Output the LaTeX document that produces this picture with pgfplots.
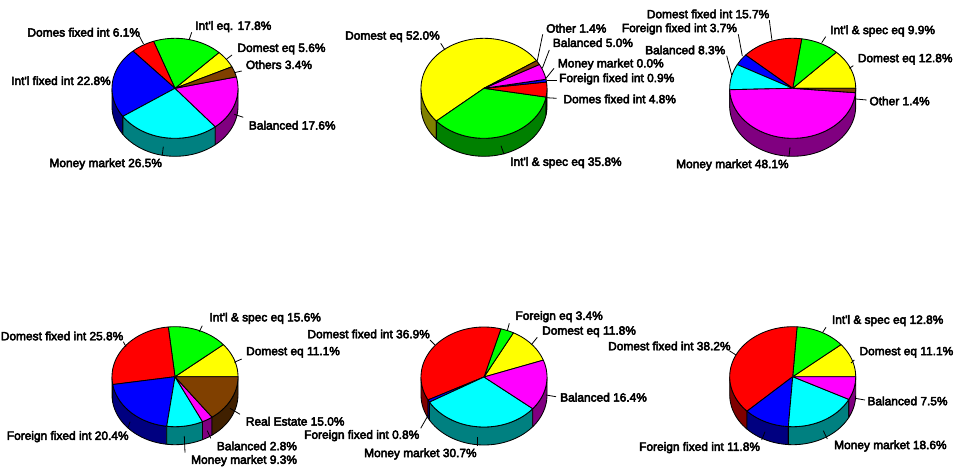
\documentclass[border=0pt]{standalone}
\usepackage{pgfplots}
\pgfplotsset{compat=1.18}
\usepackage{fontspec}
\newfontfamily\labfont{Liberation Sans}[FakeBold=4]

% slice colours: tops at full strength, side walls at half
\definecolor{cYellow}{HTML}{FFFF00}\definecolor{wYellow}{HTML}{808000}
\definecolor{cGreen}{HTML}{00FF00}\definecolor{wGreen}{HTML}{008000}
\definecolor{cRed}{HTML}{FF0000}\definecolor{wRed}{HTML}{800000}
\definecolor{cBlue}{HTML}{0000FF}\definecolor{wBlue}{HTML}{000080}
\definecolor{cCyan}{HTML}{00FFFF}\definecolor{wCyan}{HTML}{008080}
\definecolor{cMagenta}{HTML}{FF00FF}\definecolor{wMagenta}{HTML}{800080}
\definecolor{cBrown}{HTML}{804000}\definecolor{wBrown}{HTML}{402000}

\def\rx{63}\def\ry{50}\def\depth{18}
\tikzset{pieedge/.style={draw=black,line width=0.85pt,line join=round,no marks}}

% append an elliptical arc from angle #1 to angle #2, shifted down by #3
\newcommand\arcpts[3]{%
  \pgfmathtruncatemacro\arcn{max(1,ceil(abs(#2-#1)/3))}%
  \foreach \k in {0,...,\arcn}{%
    \pgfmathsetmacro\ang{#1+(#2-#1)*\k/\arcn}%
    \pgfmathsetmacro\px{\cx+\rx*cos(\ang)}%
    \pgfmathsetmacro\py{\cy-\ry*sin(\ang)+#3}%
    \xdef\pts{\pts (\px,\py)}%
  }%
}
% side wall between two angles, if that part faces the viewer
\newcommand\wallpart[3]{%
  \pgfmathsetmacro\lo{#1}\pgfmathsetmacro\hi{#2}%
  \ifdim\lo pt<\hi pt
    \gdef\pts{}%
    \arcpts{\lo}{\hi}{0}\arcpts{\hi}{\lo}{\depth}\arcpts{\lo}{\lo}{0}%
    \edef\temp{\noexpand\addplot[pieedge,fill=#3] coordinates {\pts};}\temp
  \fi
}
% one pie: centre x, centre y, angle where the first slice starts, value/top/wall list
\newcommand\Pie[4]{%
  \gdef\cx{#1}\gdef\cy{#2}%
  \gdef\total{0}%
  \foreach \v/\ct/\cw in {#4}{\pgfmathsetmacro\t{\total+\v}\xdef\total{\t}}%
  \gdef\cum{#3}%
  \foreach \v/\ct/\cw in {#4}{%
    \pgfmathsetmacro\e{\cum+\v/\total*360}%
    \wallpart{max(\cum,180)}{min(\e,360)}{\cw}%
    \wallpart{max(\cum,540)}{min(\e,720)}{\cw}%
    \xdef\cum{\e}%
  }%
  \gdef\cum{#3}%
  \foreach \v/\ct/\cw in {#4}{%
    \pgfmathsetmacro\e{\cum+\v/\total*360}%
    \xdef\pts{(\cx,\cy)}%
    \arcpts{\cum}{\e}{0}%
    \xdef\pts{\pts (\cx,\cy)}%
    \edef\temp{\noexpand\addplot[pieedge,fill=\ct] coordinates {\pts};}\temp
    \xdef\cum{\e}%
  }%
}
\newcommand\Lab[3]{\node[anchor=west,inner sep=0pt,font=\labfont\fontsize{11.9}{13}\selectfont] at (axis cs:#1,#2) {#3};}
\newcommand\Lead[4]{\addplot[black,line width=0.8pt,no marks] coordinates {(#1,#2)(#3,#4)};}

\begin{document}
\begin{tikzpicture}[x=1pt,y=1pt]
\path[use as bounding box] (0,0) rectangle (955,473);
\begin{axis}[
  at={(0,0)},anchor=south west,
  scale only axis,width=955pt,height=473pt,
  xmin=0,xmax=955,ymin=0,ymax=473,y dir=reverse,
  hide axis,clip=false]

% top row
\Pie{175}{88.3}{25.5}{5.6/cYellow/wYellow,17.8/cGreen/wGreen,6.1/cRed/wRed,22.8/cBlue/wBlue,26.5/cCyan/wCyan,17.6/cMagenta/wMagenta,3.4/cBrown/wBrown}
\Pie{484}{88.3}{33.5}{52.0/cYellow/wYellow,35.8/cGreen/wGreen,4.8/cRed/wRed,0.9/cBlue/wBlue,0.0/cCyan/wCyan,5.0/cMagenta/wMagenta,1.4/cBrown/wBrown}
\Pie{792.7}{88.3}{0}{12.8/cYellow/wYellow,9.9/cGreen/wGreen,15.7/cRed/wRed,3.7/cBlue/wBlue,8.3/cCyan/wCyan,48.1/cMagenta/wMagenta,1.4/cBrown/wBrown}
% bottom row
\Pie{175}{376.7}{0}{11.1/cYellow/wYellow,15.6/cGreen/wGreen,25.8/cRed/wRed,20.4/cBlue/wBlue,9.3/cCyan/wCyan,2.8/cMagenta/wMagenta,15.0/cBrown/wBrown}
\Pie{484}{377}{19.7}{11.8/cYellow/wYellow,3.4/cGreen/wGreen,36.9/cRed/wRed,0.8/cBlue/wBlue,30.7/cCyan/wCyan,16.4/cMagenta/wMagenta}
\Pie{792.7}{376.7}{0}{11.1/cYellow/wYellow,12.8/cGreen/wGreen,38.2/cRed/wRed,11.8/cBlue/wBlue,18.6/cCyan/wCyan,7.5/cMagenta/wMagenta}

% leader lines
\Lead{139.3}{36}{143.5}{44}
\Lead{191.7}{32.3}{189.3}{39.3}
\Lead{232}{55}{226.7}{59}
\Lead{241.7}{71}{234.3}{72.7}
\Lead{243.3}{117.3}{234.3}{114.3}
\Lead{162.3}{155}{163.3}{146.7}

\Lead{440.7}{43.3}{445}{50}
\Lead{542.7}{34.3}{537.3}{60.7}
\Lead{549.3}{50}{542.3}{68.3}
\Lead{554}{68.3}{546}{78.3}
\Lead{556.7}{80}{546.7}{80}
\Lead{556.7}{98.3}{546}{97.7}
\Lead{504}{154.3}{501}{145.7}

\Lead{769.3}{20}{772}{40.7}
\Lead{738.3}{34.3}{742.3}{56}
\Lead{726.7}{55.7}{731.7}{75}
\Lead{825.7}{36.7}{821.7}{42.7}
\Lead{853.3}{65.7}{849.3}{68.3}
\Lead{866.7}{100}{855.7}{99}
\Lead{789}{156.7}{790}{147.3}

\Lead{202.3}{325.7}{199.3}{331.7}
\Lead{123.3}{341.7}{126}{346.7}
\Lead{241.7}{359}{234.3}{362.3}
\Lead{240}{414.3}{230}{408.3}
\Lead{128.3}{427.3}{130}{421.7}
\Lead{210.7}{438.3}{207.3}{430.7}
\Lead{185}{452.7}{184.3}{436}

\Lead{509.3}{323.3}{507.3}{330.7}
\Lead{430}{340}{435}{345}
\Lead{537.3}{337.3}{531.7}{344.3}
\Lead{556}{396.7}{546}{395}
\Lead{420.7}{428.3}{428.3}{415}
\Lead{477.7}{445.7}{477.7}{436.7}

\Lead{826}{327.3}{822.7}{332.3}
\Lead{854.3}{360}{851}{363}
\Lead{729.3}{350.7}{736}{355}
\Lead{865}{400}{855}{398.3}
\Lead{827.3}{439}{823.3}{430.7}
\Lead{761.7}{440}{765}{431.7}

% labels
\Lab{27.3}{32.3}{Domes fixed int 6.1\%}
\Lab{195}{26.7}{Int'l eq. 17.8\%}
\Lab{237.3}{49}{Domest eq 5.6\%}
\Lab{245.7}{64.7}{Others 3.4\%}
\Lab{248.7}{125.3}{Balanced 17.6\%}
\Lab{49.3}{164}{Money market 26.5\%}
\Lab{11}{80.7}{Int'l fixed int 22.8\%}

\Lab{345}{36.7}{Domest eq 52.0\%}
\Lab{546}{28.3}{Other 1.4\%}
\Lab{552.7}{42.7}{Balanced 5.0\%}
\Lab{557.7}{64.3}{Money market 0.0\%}
\Lab{559}{79}{Foreign fixed int 0.9\%}
\Lab{563.3}{99}{Domes fixed int 4.8\%}
\Lab{510}{162.7}{Int'l \& spec eq 35.8\%}

\Lab{646.7}{14}{Domest fixed int 15.7\%}
\Lab{621.7}{29}{Foreign fixed int 3.7\%}
\Lab{645}{50}{Balanced 8.3\%}
\Lab{830}{31}{Int'l \& spec eq 9.9\%}
\Lab{857.7}{59.3}{Domest eq 12.8\%}
\Lab{869.3}{101}{Other 1.4\%}
\Lab{676}{165}{Money market 48.1\%}

\Lab{209.3}{318.3}{Int'l \& spec eq 15.6\%}
\Lab{0.7}{336}{Domest fixed int 25.8\%}
\Lab{246}{352.3}{Domest eq 11.1\%}
\Lab{245.7}{421.3}{Real Estate 15.0\%}
\Lab{6.7}{436.7}{Foreign fixed int 20.4\%}
\Lab{216.7}{446}{Balanced 2.8\%}
\Lab{191}{460.7}{Money market 9.3\%}

\Lab{515.3}{316.7}{Foreign eq 3.4\%}
\Lab{307.3}{334}{Domest fixed int 36.9\%}
\Lab{542}{331.7}{Domest eq 11.8\%}
\Lab{560}{397.3}{Balanced 16.4\%}
\Lab{304}{435.7}{Foreign fixed int 0.8\%}
\Lab{364}{454}{Money market 30.7\%}

\Lab{831.7}{320.7}{Int'l \& spec eq 12.8\%}
\Lab{859.3}{352.3}{Domest eq 11.1\%}
\Lab{608}{346}{Domest fixed int 38.2\%}
\Lab{867.3}{401}{Balanced 7.5\%}
\Lab{834}{446}{Money market 18.6\%}
\Lab{639}{447.7}{Foreign fixed int 11.8\%}
\end{axis}
\end{tikzpicture}
\end{document}
